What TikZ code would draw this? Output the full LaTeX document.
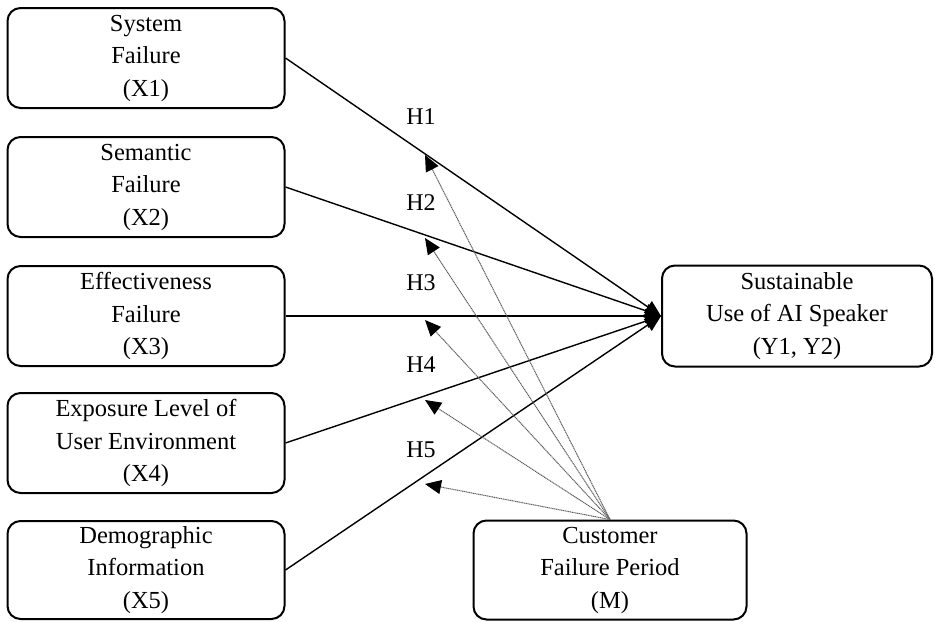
\documentclass[tikz,border=0pt]{standalone}
\usepackage{fontspec}
\setmainfont{Liberation Serif}
\usetikzlibrary{arrows.meta}
\begin{document}
\begin{tikzpicture}[x=1pt,y=-1pt,
  var/.style={draw, line width=2pt, rounded corners=13pt, align=center,
    font=\fontsize{24.5}{32.5}\selectfont, inner sep=0pt},
  path/.style={line width=1.4pt, -{Triangle[length=16pt,width=14pt]}},
  moder/.style={gray!75!black, line width=1pt, dash pattern=on 1.2pt off 0.6pt,
    -{Triangle[length=16pt,width=14pt,fill=black,color=black]}},
  hlab/.style={font=\fontsize{24}{28}\selectfont}]
\useasboundingbox (0,0) rectangle (936,621);
\fill[white] (0,0) rectangle (936,621);
% independent variables
\node[var, minimum width=277pt, minimum height=100pt] (x1) at (146,58) {System\\Failure\\(X1)};
\node[var, minimum width=277pt, minimum height=100pt] (x2) at (146,187) {Semantic\\Failure\\(X2)};
\node[var, minimum width=277pt, minimum height=100pt] (x3) at (146,316) {Effectiveness\\Failure\\(X3)};
\node[var, minimum width=277pt, minimum height=100pt] (x4) at (146,443) {Exposure Level of\\User Environment\\(X4)};
\node[var, minimum width=277pt, minimum height=98pt] (x5) at (146,570) {Demographic\\Information\\(X5)};
% dependent and moderating variables
\node[var, minimum width=270pt, minimum height=101pt] (y) at (797,316) {Sustainable\\Use of AI Speaker\\(Y1, Y2)};
\node[var, minimum width=273pt, minimum height=99pt] (m) at (610,570) {Customer\\Failure Period\\(M)};
% moderation targets on the paths
\coordinate (h1) at (425,155);
\coordinate (h2) at (425,238);
\coordinate (h3) at (425,320);
\coordinate (h4) at (425,400);
\coordinate (h5) at (425,484);
% main effects
\foreach \i in {1,...,5} \draw[path] (x\i.east) -- (y.west);
% moderation effects
\foreach \i in {1,...,5} \draw[moder] (m.north) -- (h\i);
% hypothesis labels
\node[hlab] (l1) at (421,117) {H1};
\node[hlab] (l2) at (421,203) {H2};
\node[hlab] (l3) at (421,283) {H3};
\node[hlab] (l4) at (421,365) {H4};
\node[hlab] (l5) at (421,450) {H5};
\end{tikzpicture}
\end{document}
